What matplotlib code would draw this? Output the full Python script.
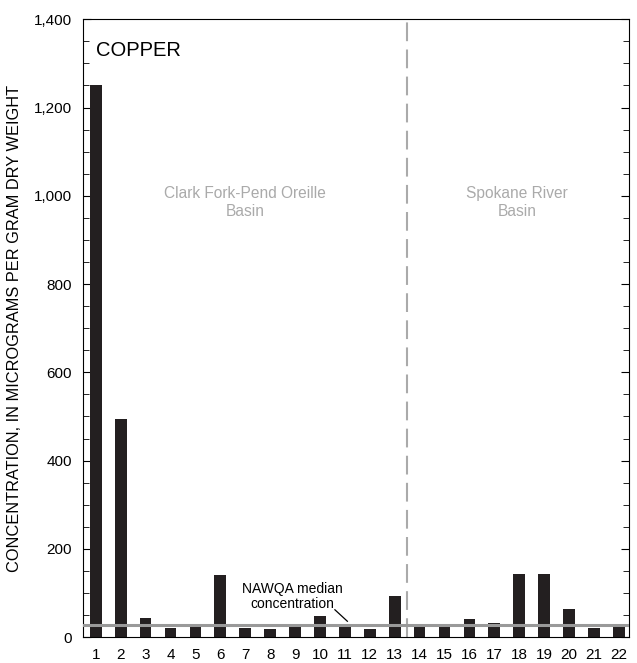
import numpy as np
import matplotlib.pyplot as plt
from matplotlib.ticker import MultipleLocator, FuncFormatter

# sites 1-13 Clark Fork-Pend Oreille, 14-22 Spokane River
sites = np.arange(1, 23)
copper = [1250, 495, 43, 21, 25, 141, 21, 19, 25, 49, 25, 19, 94,
          25, 25, 40, 33, 142, 142, 64, 21, 25]
nawqa_median = 27
basin_split = 13.5

plt.rcParams['font.family'] = ['Liberation Sans', 'DejaVu Sans']

fig = plt.figure(figsize=(6.37, 6.63), dpi=100)
ax = fig.add_axes([0.130, 0.039, 0.858, 0.932])

ax.bar(sites, copper, width=0.47, color='#231f20', zorder=2)
ax.axhline(nawqa_median, color='#999999', lw=2.2, zorder=3)
ax.axvline(basin_split, color='#aaaaaa', lw=1.5, ls=(0, (9, 4)), zorder=1)

ax.set_xlim(0.48, 22.42)
ax.set_ylim(0, 1400)
ax.set_xticks(sites)
ax.tick_params(axis='x', length=0, labelsize=11, pad=8)
ax.yaxis.set_major_locator(MultipleLocator(200))
ax.yaxis.set_minor_locator(MultipleLocator(50))
ax.yaxis.set_major_formatter(FuncFormatter(lambda v, p: f'{int(v):,}'))
ax.tick_params(axis='y', which='both', direction='in', right=True,
               labelsize=11, pad=8)
ax.tick_params(axis='y', which='major', length=6)
ax.tick_params(axis='y', which='minor', length=4)
ax.set_ylabel('CONCENTRATION, IN MICROGRAMS PER GRAM DRY WEIGHT', fontsize=11.8)
ax.yaxis.set_label_coords(-0.112, 0.5)

ax.text(1.0, 1330, 'COPPER', fontsize=14.5, va='center', ha='left')
ax.text(7.0, 985, 'Clark Fork-Pend Oreille\nBasin', color='#aaaaaa',
        fontsize=11.2, ha='center', va='center', linespacing=1.25)
ax.text(17.9, 985, 'Spokane River\nBasin', color='#aaaaaa',
        fontsize=11.2, ha='center', va='center', linespacing=1.25)
ax.text(8.9, 92, 'NAWQA median\nconcentration', fontsize=10,
        ha='center', va='center', linespacing=1.15)
ax.plot([10.6, 11.1], [62, 36], color='black', lw=0.9, zorder=4)

fig.savefig('out.png', dpi=100)
